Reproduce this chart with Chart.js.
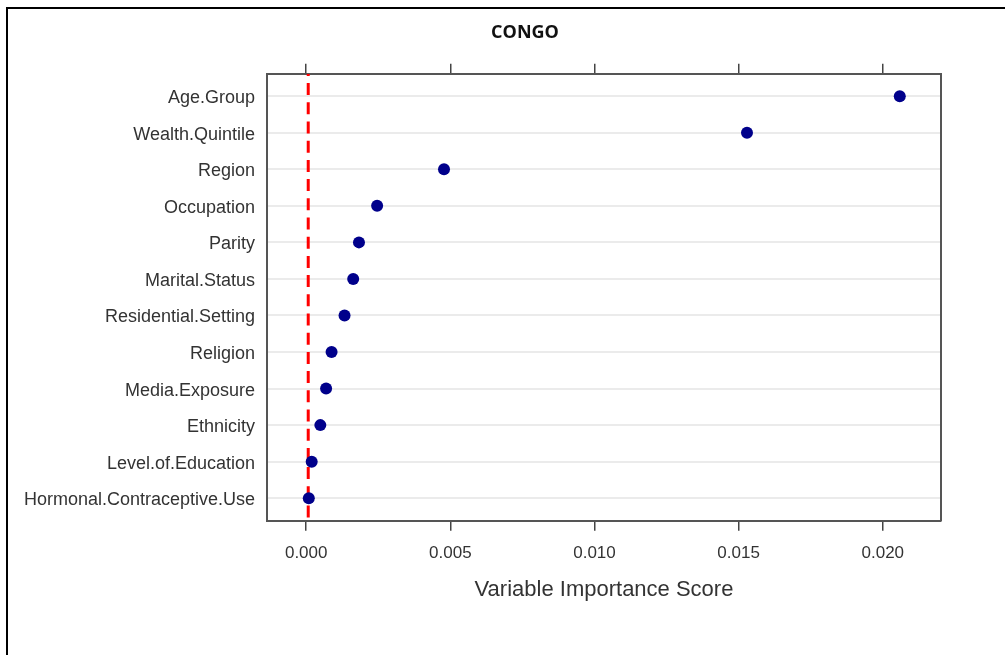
<!DOCTYPE html>
<html>
<head>
<meta charset="utf-8">
<script src="https://cdn.jsdelivr.net/npm/chart.js@4/dist/chart.umd.min.js"></script>
<style>
html,body{margin:0;padding:0;background:#fff;overflow:hidden;width:1005px;height:655px;}
#frame{position:absolute;left:6px;top:7px;width:1200px;height:1000px;border-left:2px solid #000;border-top:2px solid #000;}
#wrap{position:absolute;left:0;top:0;width:1050px;height:655px;}
</style>
</head>
<body>
<div id="frame"></div>
<div id="wrap"><canvas id="c" width="1050" height="655"></canvas></div>
<script>
const categories = [
  "Age.Group", "Wealth.Quintile", "Region", "Occupation", "Parity",
  "Marital.Status", "Residential.Setting", "Religion", "Media.Exposure",
  "Ethnicity", "Level.of.Education", "Hormonal.Contraceptive.Use"
];
const importance = [
  0.02059, 0.01529, 0.00478, 0.00246, 0.00183,
  0.00163, 0.00133, 0.00088, 0.00069,
  0.00049, 0.00019, 0.00009
];
const xTickValues = [0, 0.005, 0.010, 0.015, 0.020];
const referenceValue = 0.00007;
const chartTitle = "CONGO";
const xAxisTitle = "Variable Importance Score";

const X_MIN = -0.00136, X_MAX = 0.02202;
const Y_MIN = 0.385, Y_MAX = categories.length + 0.615;

const refLinePlugin = {
  id: 'refLine',
  beforeDatasetsDraw(chart) {
    const {ctx, chartArea, scales} = chart;
    const x = scales.x.getPixelForValue(referenceValue);
    ctx.save();
    ctx.beginPath();
    ctx.rect(chartArea.left, chartArea.top, chartArea.right - chartArea.left, chartArea.bottom - chartArea.top);
    ctx.clip();
    ctx.strokeStyle = '#ff0000';
    ctx.lineWidth = 3;
    ctx.setLineDash([12, 7.2]);
    ctx.lineDashOffset = 9.8;
    ctx.beginPath();
    ctx.moveTo(x, chartArea.top);
    ctx.lineTo(x, chartArea.bottom);
    ctx.stroke();
    ctx.restore();
  }
};

const xTicksBuilder = (scale) => { scale.ticks = xTickValues.map(v => ({value: v})); };
const yTicksBuilder = (scale) => { scale.ticks = categories.map((_, i) => ({value: i + 1})); };

new Chart(document.getElementById('c'), {
  type: 'scatter',
  data: {
    datasets: [{
      data: importance.map((v, i) => ({x: v, y: i + 1})),
      backgroundColor: '#00008B',
      borderColor: '#00008B',
      borderWidth: 0,
      pointRadius: 6,
      pointHoverRadius: 6,
      xAxisID: 'x',
      yAxisID: 'y'
    }]
  },
  options: {
    responsive: false,
    animation: false,
    events: [],
    layout: { padding: { left: 0, right: 0, top: 0, bottom: 0 } },
    plugins: {
      legend: { display: false },
      tooltip: { enabled: false },
      title: {
        display: true,
        text: chartTitle,
        color: '#111',
        font: { family: 'Open Sans', size: 18, weight: 'bold' },
        padding: { top: 22, bottom: 10 }
      }
    },
    scales: {
      x: {
        type: 'linear',
        position: 'bottom',
        min: X_MIN, max: X_MAX,
        afterBuildTicks: xTicksBuilder,
        afterFit: (s) => { s.height = 134.3; },
        grid: { drawOnChartArea: false, drawTicks: true, tickLength: 10, color: '#444', tickColor: '#444', lineWidth: 1.5 },
        border: { display: true, color: '#555', width: 2 },
        ticks: {
          maxRotation: 0, autoSkip: false, padding: 12, color: '#333',
          font: { family: 'Liberation Sans', size: 17 },
          callback: (v) => Number(v).toFixed(3)
        },
        title: {
          display: true, text: xAxisTitle, color: '#333',
          font: { family: 'Liberation Sans', size: 22 },
          padding: { top: 0, bottom: 52 }
        }
      },
      x2: {
        type: 'linear',
        position: 'top',
        min: X_MIN, max: X_MAX,
        afterBuildTicks: xTicksBuilder,
        afterFit: (s) => { s.height = 20.1; },
        grid: { drawOnChartArea: false, drawTicks: true, tickLength: 10, color: '#444', tickColor: '#444', lineWidth: 1.5 },
        border: { display: true, color: '#555', width: 2 },
        ticks: { display: false }
      },
      y: {
        type: 'linear',
        position: 'left',
        reverse: true,
        min: Y_MIN, max: Y_MAX,
        afterBuildTicks: yTicksBuilder,
        afterFit: (s) => { s.width = 267; },
        grid: { drawOnChartArea: true, drawTicks: false, color: '#ebebeb', lineWidth: 2 },
        border: { display: true, color: '#555', width: 2 },
        ticks: {
          padding: 12, color: '#333', autoSkip: false, labelOffset: 2,
          font: { family: 'Liberation Sans', size: 18 },
          callback: (v) => categories[Math.round(v) - 1]
        }
      },
      y2: {
        type: 'linear',
        position: 'right',
        reverse: true,
        min: Y_MIN, max: Y_MAX,
        afterBuildTicks: yTicksBuilder,
        afterFit: (s) => { s.width = 109; },
        grid: { drawOnChartArea: false, drawTicks: false },
        border: { display: true, color: '#555', width: 2 },
        ticks: { display: false }
      }
    }
  },
  plugins: [refLinePlugin]
});
</script>
</body>
</html>
